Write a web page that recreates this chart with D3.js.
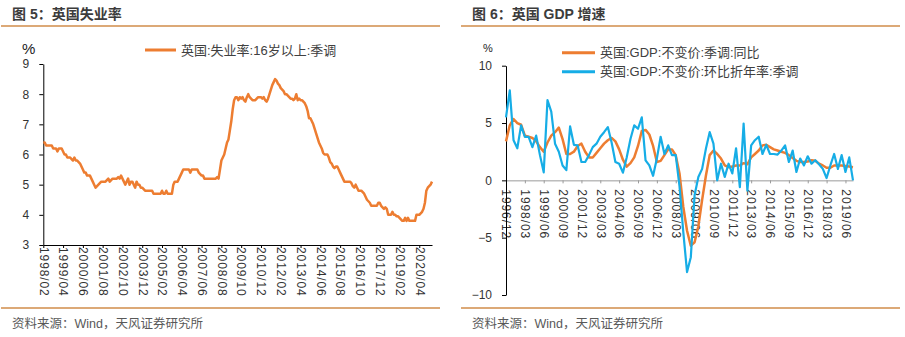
<!DOCTYPE html>
<html>
<head>
<meta charset="utf-8">
<script src="https://cdn.jsdelivr.net/npm/d3@7"></script>
<style>
  body { margin: 0; background: #fff; }
  svg { display: block; font-family: "Liberation Sans", "Noto Sans CJK SC", sans-serif; }
</style>
</head>
<body>
<div id="chart"></div>
<script>
// UK unemployment rate, 16+, seasonally adjusted, monthly from 1998/02
const unempStart = "1998/02";
const unempRate = [
  6.4, 6.4, 6.3, 6.3, 6.3, 6.3, 6.3, 6.2, 6.2, 6.2, 6.1, 6.2,
  6.2, 6.2, 6.1, 6.0, 6.0, 5.9, 5.9, 5.9, 5.85, 5.8, 5.9, 5.8,
  5.8, 5.75, 5.7, 5.6, 5.5, 5.4, 5.4, 5.3, 5.3, 5.3, 5.2, 5.1,
  5.0, 4.9, 4.95, 5.0, 5.05, 5.1, 5.1, 5.1, 5.1, 5.15, 5.2, 5.1,
  5.15, 5.2, 5.2, 5.2, 5.2, 5.25, 5.2, 5.3, 5.2, 5.1, 5.0, 5.1,
  5.2, 5.0, 5.1, 5.1, 5.0, 4.9, 5.1, 5.0, 5.0, 4.9, 4.9, 4.85,
  4.8, 4.8, 4.8, 4.8, 4.8, 4.8, 4.7, 4.7, 4.7, 4.7, 4.7, 4.7,
  4.8, 4.7, 4.7, 4.8, 4.7, 4.7, 4.7, 4.7, 5.0, 5.1, 5.1, 5.1,
  5.2, 5.3, 5.4, 5.5, 5.5, 5.5, 5.5, 5.5, 5.4, 5.5, 5.5, 5.5,
  5.5, 5.5, 5.4, 5.35, 5.3, 5.3, 5.2, 5.2, 5.2, 5.2, 5.2, 5.2,
  5.2, 5.2, 5.2, 5.25, 5.2, 5.5, 5.8, 5.9, 6.0, 6.2, 6.4, 6.5,
  6.8, 7.1, 7.5, 7.8, 7.9, 7.9, 7.8, 7.9, 7.85, 7.9, 7.8, 7.75,
  7.9, 8.0, 7.9, 7.85, 7.8, 7.8, 7.8, 7.85, 7.9, 7.9, 7.9, 7.85,
  7.9, 7.8, 7.75, 7.85, 8.0, 8.15, 8.3, 8.4, 8.5, 8.45, 8.35, 8.3,
  8.2, 8.15, 8.1, 8.0, 8.0, 7.95, 7.9, 7.85, 7.85, 7.8, 7.85, 8.0,
  7.8, 7.85, 7.8, 7.8, 7.75, 7.7, 7.6, 7.45, 7.2, 7.2, 7.1, 7.0,
  6.85, 6.7, 6.55, 6.4, 6.3, 6.2, 6.05, 6.0, 6.0, 6.0, 5.9, 5.75,
  5.7, 5.6, 5.55, 5.6, 5.6, 5.5, 5.4, 5.3, 5.2, 5.1, 5.1, 5.1,
  5.1, 5.1, 5.05, 4.95, 4.9, 5.0, 4.9, 4.8, 4.8, 4.8, 4.75, 4.7,
  4.6, 4.5, 4.45, 4.4, 4.3, 4.3, 4.3, 4.3, 4.3, 4.4, 4.4, 4.3,
  4.25, 4.2, 4.25, 4.2, 4.0, 4.0, 4.0, 4.1, 4.0, 4.0, 3.95, 3.95,
  3.9, 3.85, 3.8, 3.8, 3.9, 3.8, 3.9, 3.8, 3.8, 3.8, 3.8, 3.8,
  4.0, 4.0, 4.0, 4.05, 4.1, 4.2, 4.4, 4.8, 4.9, 4.95, 5.0, 5.1
];
const unempTicks = ["1998/02", "1999/04", "2000/06", "2001/08", "2002/10", "2003/12", "2005/02",
  "2006/04", "2007/06", "2008/08", "2009/10", "2010/12", "2012/02", "2013/04", "2014/06",
  "2015/08", "2016/10", "2017/12", "2019/02", "2020/04"];
const unempYTicks = [3, 4, 5, 6, 7, 8, 9];

// UK real GDP, quarterly from 1996/12: y/y and q/q annualised (%)
const gdpStart = "1996/12";
const gdpYoy = [
  3.4, 4.8, 5.35, 5.0, 4.85, 3.9, 3.8, 3.7, 3.4, 2.9,
  2.5, 3.3, 3.9, 4.2, 4.6, 3.6, 2.3, 2.3, 2.5, 3.0,
  3.2, 2.5, 2.0, 2.0, 2.4, 2.8, 3.2, 3.5, 3.7, 3.4,
  2.7, 1.8, 1.2, 1.5, 2.0, 3.0, 4.3, 4.4, 4.0, 3.0,
  1.6, 1.7, 2.2, 2.7, 2.7, 2.2, 0.6, -2.3, -4.4, -5.7,
  -5.4, -4.0, -1.7, 0.4, 2.2, 2.6, 2.3, 1.9, 1.3, 1.15,
  1.2, 1.3, 1.3, 1.5, 1.4, 2.0, 2.3, 2.6, 3.05, 3.1,
  2.9, 2.7, 2.6, 2.5, 2.4, 2.2, 1.95, 1.7, 1.6, 1.6,
  1.65, 1.75, 1.7, 1.45, 1.3, 1.1, 1.1, 1.3, 1.3, 1.3,
  1.25, 1.2, 1.15
];
const gdpQoqAnn = [
  5.5, 7.85, 3.5, 2.8, 4.8, 3.8, 3.8, 2.9, 3.9, 2.2,
  0.7, 7.0, 6.0, 3.2, 2.5, 1.3, 0.9, 4.7, 3.1, 3.05,
  1.6, 1.6, 2.2, 2.9, 3.2, 3.8, 4.2, 4.65, 3.3, 1.6,
  1.45, 0.67, 2.0, 3.6, 4.8, 4.5, 5.5, 1.75, 1.3, 0.4,
  1.9, 3.8, 2.3, 3.05, 2.2, 2.2, -0.5, -4.5, -8.0, -6.7,
  -1.3, 0.3, 1.0, 2.75, 4.2, 3.2, 0.0, 1.45, 0.3, 1.45,
  0.6, 2.8, -0.6, 4.95, -0.9, 3.05, 3.5, 3.8, 2.3, 3.1,
  2.3, 2.3, 2.25, 2.6, 3.05, 1.6, 2.6, 0.73, 1.9, 1.3,
  2.1, 1.45, 1.75, 1.4, 1.0, 0.2, 1.3, 2.3, 1.0, 2.2,
  0.73, 2.0, 0.0
];
const gdpTicks = ["1996/12", "1998/03", "1999/06", "2000/09", "2001/12", "2003/03", "2004/06",
  "2005/09", "2006/12", "2008/03", "2009/06", "2010/09", "2011/12", "2013/03", "2014/06",
  "2015/09", "2016/12", "2018/03", "2019/06"];
const gdpYTicks = [-10, -5, 0, 5, 10];

const seriesNames = ["英国:失业率:16岁以上:季调", "英国:GDP:不变价:季调:同比", "英国:GDP:不变价:环比折年率:季调"];
const titles = ["图 5：英国失业率", "图 6：英国 GDP 增速"];
const source = "资料来源：Wind，天风证券研究所";

const width = 905, height = 337;
const orange = "#ED7D31", blue = "#16ADE6", rule = "#D08C4A";

const parseMonth = d3.timeParse("%Y/%m"), fmtMonth = d3.timeFormat("%Y/%m");
const monthLabels = (start, n, step) =>
  d3.range(n).map(i => fmtMonth(d3.timeMonth.offset(parseMonth(start), i * step)));
const unempMonths = monthLabels(unempStart, unempRate.length, 1);
const gdpQuarters = monthLabels(gdpStart, gdpYoy.length, 3);

const svg = d3.select("#chart").append("svg")
  .attr("width", width)
  .attr("height", height);

// frame for each panel: title, rules, source line
[0, 460].forEach((ox, k) => {
  svg.append("text").attr("x", ox + 12).attr("y", 19)
    .attr("font-size", 14).attr("font-weight", "bold").attr("fill", "#3c3c3c")
    .text(titles[k]);
  [26, 308].forEach(y => svg.append("line")
    .attr("x1", ox + 1).attr("x2", ox + 440).attr("y1", y).attr("y2", y)
    .attr("stroke", rule).attr("stroke-width", 1.5));
  svg.append("text").attr("x", ox + 12).attr("y", 328)
    .attr("font-size", 12.5).attr("fill", "#595959")
    .text(source);
});

function styleAxis(g, color) {
  g.attr("font-family", null).attr("font-size", null);
  g.select(".domain").attr("stroke", color);
  g.selectAll(".tick line").attr("stroke", color);
  g.selectAll("text").attr("fill", "#333").attr("font-size", 12);
}

function rotateLabels(g, gap) {
  g.selectAll("text")
    .attr("transform", "rotate(90)")
    .attr("x", gap).attr("y", 0).attr("dy", "0.35em")
    .attr("text-anchor", "start")
    .attr("letter-spacing", 0.9);
}

function legend(y, x0, name, color, w) {
  svg.append("line").attr("x1", x0).attr("x2", x0 + w).attr("y1", y).attr("y2", y)
    .attr("stroke", color).attr("stroke-width", 3);
  svg.append("text").attr("x", x0 + w + 5).attr("y", y + 4.5)
    .attr("font-size", 13).attr("fill", "#404040").text(name);
}

// ---- unemployment chart
const xU = d3.scaleLinear().domain([0, unempRate.length - 1]).range([43.3, 432]);
const yU = d3.scaleLinear().domain([3, 9]).range([245, 64]);

svg.append("g").attr("transform", `translate(${xU(0)},0)`)
  .call(d3.axisLeft(yU).tickValues(unempYTicks).tickFormat(d3.format("d"))
    .tickSize(4).tickSizeOuter(0).tickPadding(10))
  .call(g => styleAxis(g, "#000"));

svg.append("g").attr("transform", `translate(0,${yU(3)})`)
  .call(d3.axisBottom(xU)
    .tickValues(unempTicks.map(t => unempMonths.indexOf(t)))
    .tickFormat(i => unempMonths[i])
    .tickSize(3).tickSizeOuter(0))
  .call(g => styleAxis(g, "#000"))
  .call(g => rotateLabels(g, 2));

svg.append("text").attr("x", 22).attr("y", 54).attr("font-size", 15).attr("fill", "#222").text("%");
legend(50, 145, seriesNames[0], orange, 31);

svg.append("path").datum(unempRate)
  .attr("fill", "none").attr("stroke", orange).attr("stroke-width", 2.5)
  .attr("stroke-linejoin", "round")
  .attr("d", d3.line().x((d, i) => xU(i)).y(d => yU(d)));

// ---- GDP chart
const xG = d3.scaleLinear().domain([0, gdpYoy.length - 1]).range([506, 853]);
const yG = d3.scaleLinear().domain([-10, 10]).range([295, 65.7]);

svg.append("g").attr("transform", `translate(0,${yG(0)})`)
  .call(d3.axisBottom(xG)
    .tickValues(gdpTicks.map(t => gdpQuarters.indexOf(t)))
    .tickFormat(i => gdpQuarters[i])
    .tickSize(3).tickSizeOuter(0))
  .call(g => styleAxis(g, "#9a9a9a"))
  .call(g => rotateLabels(g, 9));

svg.append("g").attr("transform", `translate(${xG(0)},0)`)
  .call(d3.axisLeft(yG).tickValues(gdpYTicks).tickFormat(d3.format("d"))
    .tickSize(4).tickSizeOuter(0).tickPadding(10))
  .call(g => styleAxis(g, "#000"));

svg.append("text").attr("x", 483).attr("y", 51.5).attr("font-size", 11).attr("fill", "#222").text("%");
legend(52.7, 562, seriesNames[1], orange, 33);
legend(71.7, 562, seriesNames[2], blue, 33);

const gdpLine = d3.line().x((d, i) => xG(i)).y(d => yG(d));
svg.append("path").datum(gdpYoy)
  .attr("fill", "none").attr("stroke", orange).attr("stroke-width", 2.5)
  .attr("stroke-linejoin", "round").attr("d", gdpLine);
svg.append("path").datum(gdpQoqAnn)
  .attr("fill", "none").attr("stroke", blue).attr("stroke-width", 2.2)
  .attr("stroke-linejoin", "round").attr("d", gdpLine);
</script>
</body>
</html>
